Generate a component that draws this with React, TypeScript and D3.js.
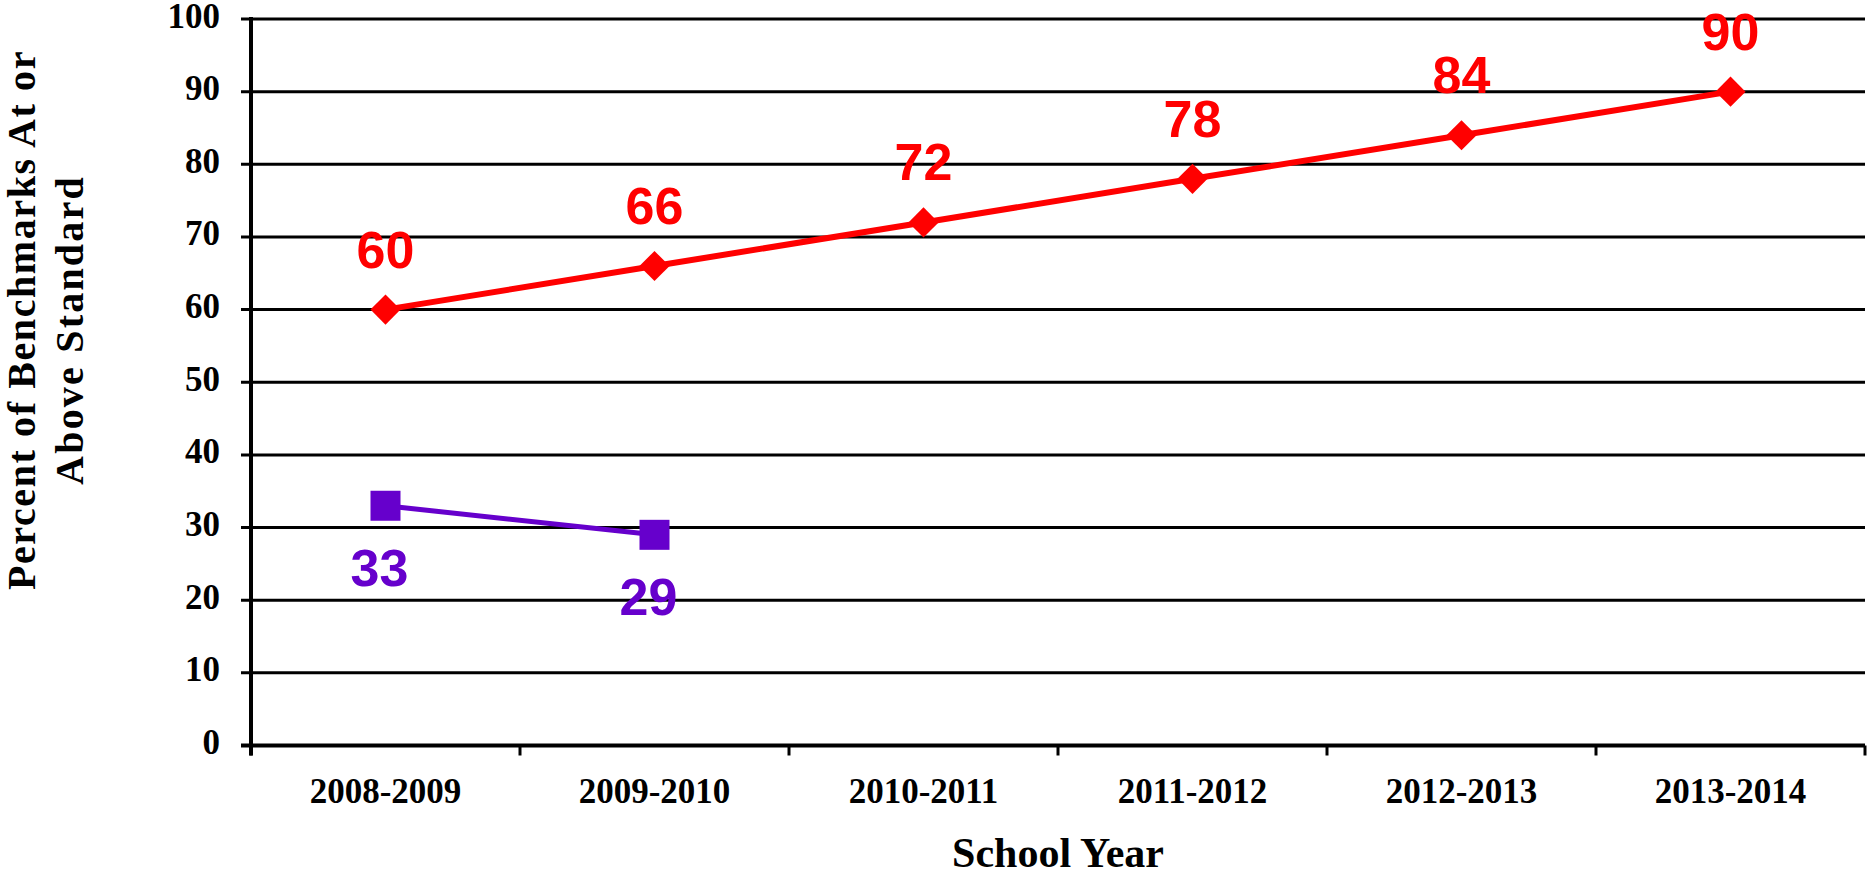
import React from "react";
import * as d3 from "d3";

const categories = ["2008-2009", "2009-2010", "2010-2011", "2011-2012", "2012-2013", "2013-2014"];
const targetValues = [60, 66, 72, 78, 84, 90];
const actualValues = [33, 29];
const yTicks = [0, 10, 20, 30, 40, 50, 60, 70, 80, 90, 100];

const W = 1867;
const H = 875;
const left = 251;
const right = 1865;
const top = 19;
const bottom = 745.5;

const RED = "#FF0000";
const PURPLE = "#6600CC";
const SERIF = "'Liberation Serif', 'Times New Roman', serif";
const SANS = "'Liberation Sans', Arial, sans-serif";

export default function App() {
  const x = d3.scaleBand<string>().domain(categories).range([left, right]).padding(0);
  const y = d3.scaleLinear().domain([0, 100]).range([bottom, top]);
  const cx = (c: string) => (x(c) as number) + x.bandwidth() / 2;

  const redPts = targetValues.map((v, i) => [cx(categories[i]), y(v)] as [number, number]);
  const purplePts = actualValues.map((v, i) => [cx(categories[i]), y(v)] as [number, number]);
  const line = d3.line();
  const diamond = d3.symbol().type(d3.symbolDiamond2).size(2 * 17 * 17)();
  const boundaries = [...categories.map((c) => x(c) as number), right];

  return (
    <svg width={W} height={H} style={{ position: "absolute", left: 0, top: 0, background: "#fff" }}>
      {/* gridlines and y ticks */}
      {yTicks.map((t) => (
        <g key={t}>
          <line x1={left - 10} x2={right} y1={y(t)} y2={y(t)} stroke="#000" strokeWidth={t === 0 ? 4 : 3} />
          <text
            x={220}
            y={y(t) + 8.5}
            textAnchor="end"
            fontFamily={SERIF}
            fontWeight="bold"
            fontSize={35}
            fill="#000"
          >
            {t}
          </text>
        </g>
      ))}
      {/* y axis */}
      <line x1={left} x2={left} y1={top - 2} y2={bottom + 10} stroke="#000" strokeWidth={4} />
      {/* x ticks */}
      {boundaries.map((b, i) => (
        <line key={i} x1={b} x2={b} y1={bottom} y2={bottom + 10} stroke="#000" strokeWidth={3} />
      ))}
      {/* x tick labels */}
      {categories.map((c) => (
        <text key={c} x={cx(c)} y={803} textAnchor="middle" fontFamily={SERIF} fontWeight="bold" fontSize={35} fill="#000">
          {c}
        </text>
      ))}
      {/* axis titles */}
      <text x={(left + right) / 2} y={867} textAnchor="middle" fontFamily={SERIF} fontWeight="bold" fontSize={42} fill="#000">
        School Year
      </text>
      <g transform="translate(35,320) rotate(-90)">
        <text x={0} y={0} textAnchor="middle" fontFamily={SERIF} fontWeight="bold" fontSize={40} letterSpacing={1.6} fill="#000">
          Percent of Benchmarks At or
        </text>
        <text x={-10} y={48} textAnchor="middle" fontFamily={SERIF} fontWeight="bold" fontSize={40} letterSpacing={2.2} fill="#000">
          Above Standard
        </text>
      </g>
      {/* red series */}
      <path d={line(redPts) || ""} fill="none" stroke={RED} strokeWidth={6} />
      {redPts.map((p, i) => (
        <g key={i}>
          <path d={diamond || ""} transform={`translate(${p[0]},${p[1]})`} fill={RED} />
          <text x={p[0]} y={p[1] - 42} textAnchor="middle" fontFamily={SANS} fontWeight="bold" fontSize={52} fill={RED}>
            {targetValues[i]}
          </text>
        </g>
      ))}
      {/* purple series */}
      <path d={line(purplePts) || ""} fill="none" stroke={PURPLE} strokeWidth={5} />
      {purplePts.map((p, i) => (
        <g key={i}>
          <rect x={p[0] - 15} y={p[1] - 15} width={30} height={30} fill={PURPLE} />
          <text x={p[0] - 6} y={p[1] + 80} textAnchor="middle" fontFamily={SANS} fontWeight="bold" fontSize={52} fill={PURPLE}>
            {actualValues[i]}
          </text>
        </g>
      ))}
    </svg>
  );
}
